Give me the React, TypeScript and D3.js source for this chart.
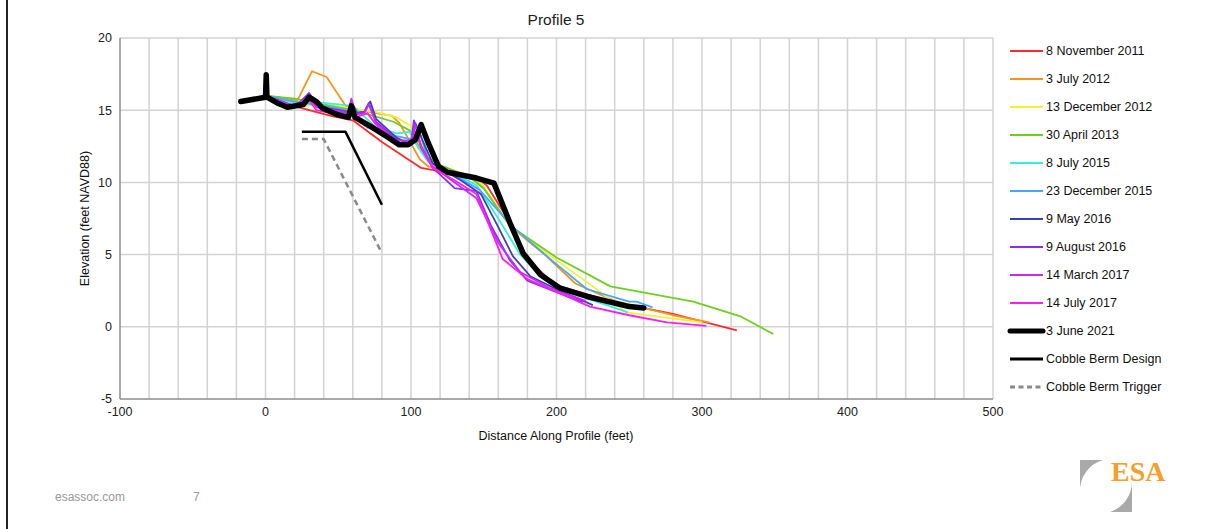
import React from "react";
import * as d3 from "d3";

type Pt = [number, number];

const title = "Profile 5";
const xLabel = "Distance Along Profile (feet)";
const yLabel = "Elevation (feet NAVD88)";
const xTicks = [-100, 0, 100, 200, 300, 400, 500];
const yTicks = [-5, 0, 5, 10, 15, 20];

const seriesNames = [
  "8 November 2011",
  "3 July 2012",
  "13 December 2012",
  "30 April 2013",
  "8 July 2015",
  "23 December 2015",
  "9 May 2016",
  "9 August 2016",
  "14 March 2017",
  "14 July 2017",
  "3 June 2021",
  "Cobble Berm Design",
  "Cobble Berm Trigger",
];

const nov2011: Pt[] = [[0,15.9],[15,15.4],[30,15.0],[45,14.6],[60,14.3],[80,12.8],[107,11.0],[118,10.8],[145,10.3],[152,9.8],[170,6.9],[180,4.7],[199,2.9],[240,1.7],[280,0.9],[324,-0.25]];
const jul2012: Pt[] = [[0,16],[15,15.8],[22,15.7],[32,17.7],[42,17.3],[55,15.3],[65,15.0],[76,14.8],[87,14.6],[92,14.1],[100,12.7],[106,11.6],[112,11.1],[118,11.0],[140,10.4],[150,9.6],[168,7.0],[193,4.9],[213,3.0],[240,1.8],[280,0.8],[305,0.3]];
const dec2012: Pt[] = [[0,16],[20,15.6],[28,15.3],[40,15.4],[60,15.1],[75,14.9],[90,14.5],[100,13.9],[107,12.7],[115,11.3],[130,10.8],[148,10.0],[168,7.0],[200,4.6],[225,2.8],[248,1.0],[300,0.3]];
const apr2013: Pt[] = [[0,16],[20,15.8],[30,15.6],[50,15.2],[60,15.0],[74,14.6],[88,14.2],[99,13.6],[110,11.8],[120,11.2],[140,10.4],[150,9.6],[168,7.0],[200,4.8],[237,2.8],[294,1.75],[327,0.7],[349,-0.5]];
const jul2015: Pt[] = [[0,16],[20,15.5],[30,15.6],[50,15.4],[60,15.3],[76,13.8],[90,13.4],[99,13.5],[105,12.4],[112,11.4],[130,10.6],[145,9.8],[160,7.5],[175,5.0],[190,3.4],[220,2.0],[249,1.0]];
const dec2015: Pt[] = [[0,16],[25,15.5],[40,15.3],[55,15.0],[70,13.8],[90,13.2],[100,13.0],[105,13.8],[112,11.5],[130,10.5],[147,9.5],[170,6.9],[198,4.5],[221,2.6],[250,1.75],[255,1.75],[266,1.35]];
const may2016: Pt[] = [[0,16],[20,15.3],[30,15.7],[35,15.5],[45,15.0],[57,14.8],[59,15.6],[63,14.8],[68,14.9],[72,15.6],[76,14.4],[90,13.1],[100,12.6],[103,14.1],[108,12.9],[115,11.3],[135,10.1],[148,9.2],[160,6.9],[170,4.9],[182,3.5],[200,2.6],[225,1.5]];
const aug2016: Pt[] = [[0,16],[20,15.2],[30,16.2],[35,15.4],[45,15.1],[57,14.9],[59,15.7],[62,14.8],[68,14.9],[71,15.5],[76,14.2],[90,13.0],[100,12.7],[102,14.3],[107,12.5],[115,11.0],[130,9.6],[145,9.4],[155,7.0],[168,4.6],[180,3.2],[200,2.4],[218,1.7]];
const mar2017: Pt[] = [[0,16],[20,15.3],[30,16.0],[35,15.2],[45,15.0],[57,14.8],[59,15.8],[62,14.7],[68,14.8],[71,15.4],[76,14.1],[90,12.9],[100,12.9],[103,14.0],[107,12.4],[115,11.1],[130,10.0],[145,8.9],[160,5.8],[175,3.8],[195,2.7],[220,1.8]];
const jul2017: Pt[] = [[0,16],[20,15.2],[30,15.7],[35,15.0],[45,14.8],[57,14.6],[59,15.3],[62,14.5],[70,14.8],[76,14.0],[90,12.8],[100,12.6],[103,13.5],[108,12.2],[115,11.0],[129,10.2],[145,9.2],[163,4.7],[180,3.3],[196,2.6],[223,1.4],[250,0.8],[276,0.3],[303,0.07]];
const jun2021: Pt[] = [[-17,15.6],[0,15.9],[0.5,17.45],[1,15.9],[8,15.5],[15,15.2],[26,15.4],[30,15.9],[35,15.6],[39,15.15],[49,14.7],[57,14.5],[59,15.3],[61.5,14.5],[72,13.9],[83,13.2],[92,12.6],[98,12.6],[103,12.95],[107,14.0],[112,12.7],[119,11.1],[125,10.7],[145,10.3],[157,9.95],[168,7.2],[177,5.1],[189,3.6],[202,2.7],[221,2.1],[250,1.4],[260,1.3]];
const bermDesign: Pt[] = [[25,13.5],[55,13.5],[80,8.45]];
const bermTrigger: Pt[] = [[25,13.0],[40,13.0],[80,5.1]];

const seriesData: Pt[][] = [nov2011, jul2012, dec2012, apr2013, jul2015, dec2015, may2016, aug2016, mar2017, jul2017, jun2021, bermDesign, bermTrigger];
const seriesColors = ["#ff2a2a", "#f7941d", "#f2f230", "#6fcf1f", "#33f0d8", "#45a8ff", "#3345b5", "#8a2cf5", "#c22cf7", "#ff1cf0", "#000000", "#000000", "#8a8a8a"];
const seriesWidths = [1.8, 1.8, 1.8, 1.8, 1.8, 1.8, 1.8, 1.8, 1.8, 1.8, 5.5, 2.5, 2.5];
const seriesDash = ["", "", "", "", "", "", "", "", "", "", "", "", "6,4"];

const FONT = "'Liberation Sans', Arial, sans-serif";

export default function App() {
  const W = 1225, H = 529;
  const x = d3.scaleLinear().domain([-100, 500]).range([120, 993]);
  const y = d3.scaleLinear().domain([-5, 20]).range([399, 38]);
  const line = d3.line<Pt>().x((d) => x(d[0])).y((d) => y(d[1])).curve(d3.curveLinear);

  const vGrid = d3.range(-80, 501, 20);
  const hGrid = d3.range(0, 21, 5);

  return (
    <svg width={W} height={H} style={{ position: "absolute", left: 0, top: 0, background: "#fff" }} fontFamily={FONT}>
      <rect x={0} y={0} width={W} height={H} fill="#ffffff" />
      <rect x={6} y={0} width={2} height={H} fill="#222" />

      <text x={556} y={25} textAnchor="middle" fontSize={15.5} fill="#222">{title}</text>

      {vGrid.map((v) => (
        <line key={"v" + v} x1={x(v)} x2={x(v)} y1={y(20)} y2={y(-5)} stroke="#d3d3d3" strokeWidth={1.5} />
      ))}
      {hGrid.map((v) => (
        <line key={"h" + v} x1={x(-100)} x2={x(500)} y1={y(v)} y2={y(v)} stroke="#d3d3d3" strokeWidth={1.5} />
      ))}
      <line x1={x(-100)} x2={x(-100)} y1={y(20)} y2={y(-5)} stroke="#8c8c8c" strokeWidth={1.5} />
      <line x1={x(-100)} x2={x(500)} y1={y(-5)} y2={y(-5)} stroke="#8c8c8c" strokeWidth={1.5} />

      {yTicks.map((t) => (
        <text key={"yt" + t} x={x(-100) - 8} y={y(t)} dy="0.35em" textAnchor="end" fontSize={12.5} fill="#222">{t}</text>
      ))}
      {xTicks.map((t) => (
        <text key={"xt" + t} x={x(t)} y={y(-5) + 13} dy="0.35em" textAnchor="middle" fontSize={12.5} fill="#222">{t}</text>
      ))}
      <text x={556} y={436} dy="0.35em" textAnchor="middle" fontSize={12.5} fill="#111">{xLabel}</text>
      <text transform={`translate(85,${(y(20) + y(-5)) / 2}) rotate(-90)`} textAnchor="middle" dy="0.35em" fontSize={12.5} fill="#111">{yLabel}</text>

      {seriesData.map((d, i) => (
        <path key={"s" + i} d={line(d) || ""} fill="none" stroke={seriesColors[i]} strokeWidth={seriesWidths[i]}
          strokeDasharray={seriesDash[i] || undefined} strokeLinejoin="round" strokeLinecap={i === 10 ? "round" : "butt"} />
      ))}

      {seriesNames.map((n, i) => {
        const ly = 51 + i * 28;
        return (
          <g key={"lg" + i}>
            <line x1={1010} x2={1043} y1={ly} y2={ly} stroke={seriesColors[i]} strokeWidth={i === 10 ? 5 : seriesWidths[i] + 0.4}
              strokeDasharray={seriesDash[i] ? "5,3.5" : undefined} strokeLinecap={i === 10 ? "round" : "butt"} />
            <text x={1046} y={ly} dy="0.35em" fontSize={12.5} fill="#111">{n}</text>
          </g>
        );
      })}

      <text x={55} y={497} dy="0.35em" fontSize={12} fill="#9a9a9a">esassoc.com</text>
      <text x={193} y={497} dy="0.35em" fontSize={12} fill="#9a9a9a">7</text>

      <path d="M1080,460 L1103,460 A32,32 0 0,0 1080,492 Z" fill="#a9a9a9" />
      <path d="M1132,512 L1132,482 A32,32 0 0,1 1110,512 Z" fill="#a9a9a9" />
      <text x={1111} y={480.5} fontSize={28} fontWeight="bold" fontFamily="'Liberation Serif', 'Times New Roman', serif" fill="#f5a02a">ESA</text>
    </svg>
  );
}
